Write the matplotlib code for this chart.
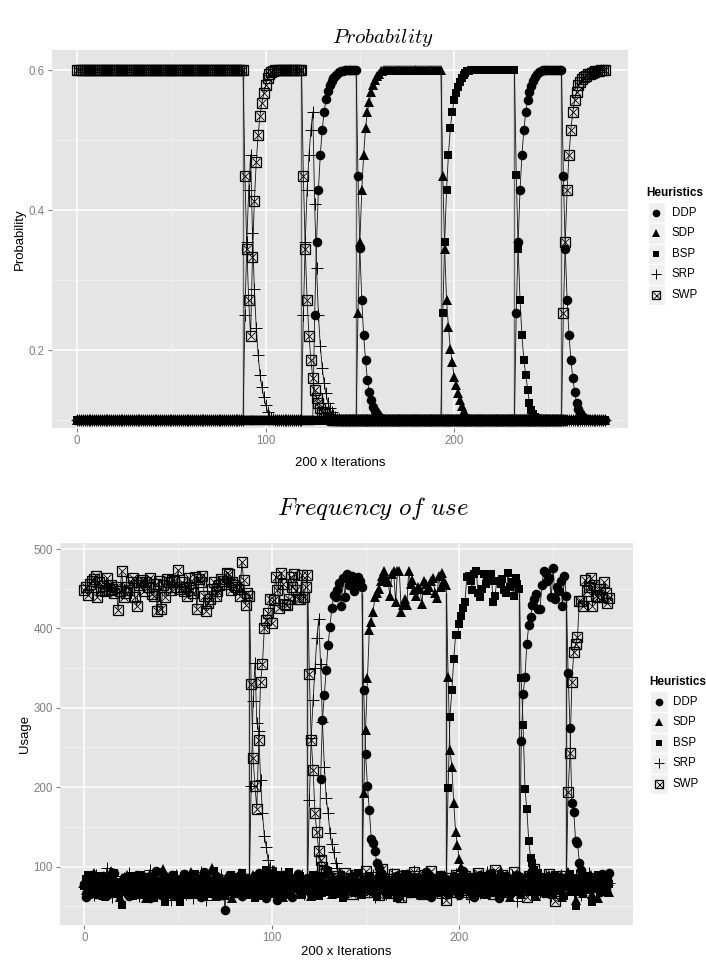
import numpy as np
import matplotlib
matplotlib.use('Agg')
import matplotlib.pyplot as plt
from matplotlib.lines import Line2D
from matplotlib.patches import Rectangle

plt.rcParams['font.family'] = ['Liberation Sans', 'DejaVu Sans']
plt.rcParams['mathtext.fontset'] = 'cm'

heuristics = ['DDP', 'SDP', 'BSP', 'SRP', 'SWP']
x_ticks = [0, 100, 200]
x_minor = [50, 150, 250]

# ---------------- Probability panel data (one value per 200 iterations) -------------
prob_ddp = ([0.1] * 126 +
            [0.25, 0.355, 0.429, 0.479, 0.514, 0.540, 0.558, 0.570, 0.578, 0.585, 0.589, 0.592, 0.595, 0.597, 0.598, 0.599] +
            [0.6] * 7 +
            [0.449, 0.346, 0.271, 0.221, 0.186, 0.157, 0.140, 0.128, 0.119, 0.113, 0.108, 0.105, 0.103, 0.101] +
            [0.1] * 70 +
            [0.253, 0.355, 0.429, 0.479, 0.514, 0.540, 0.557, 0.568, 0.577, 0.585, 0.590, 0.594, 0.597, 0.599] +
            [0.6] * 11 +
            [0.449, 0.345, 0.271, 0.221, 0.186, 0.160, 0.140, 0.125, 0.116, 0.110, 0.106, 0.103, 0.102, 0.101] +
            [0.1] * 9)
prob_sdp = ([0.1] * 149 +
            [0.253, 0.354, 0.429, 0.479, 0.517, 0.540, 0.555, 0.569, 0.579, 0.586, 0.591, 0.595, 0.598, 0.599] +
            [0.6] * 31 +
            [0.449, 0.345, 0.271, 0.233, 0.202, 0.183, 0.162, 0.150, 0.138, 0.128, 0.120, 0.113, 0.108, 0.104, 0.102] +
            [0.1] * 72)
prob_bsp = ([0.1] * 194 +
            [0.253, 0.355, 0.429, 0.479, 0.517, 0.540, 0.557, 0.567, 0.576, 0.583, 0.589, 0.593, 0.596, 0.598, 0.599] +
            [0.6] * 24 +
            [0.45, 0.345, 0.271, 0.221, 0.186, 0.165, 0.143, 0.124, 0.115, 0.109, 0.105, 0.103, 0.101, 0.1] +
            [0.1] * 34)
prob_srp = ([0.1] * 89 +
            [0.25, 0.355, 0.429, 0.479, 0.367, 0.287, 0.231, 0.193, 0.165, 0.147, 0.133, 0.122, 0.112, 0.106, 0.103, 0.101] +
            [0.1] * 15 +
            [0.25, 0.355, 0.429, 0.479, 0.514, 0.540, 0.409, 0.317, 0.250, 0.206, 0.175, 0.153, 0.138, 0.125, 0.117,
             0.111, 0.107, 0.104, 0.102, 0.101] +
            [0.1] * 141)
prob_swp = ([0.6] * 89 +
            [0.449, 0.345, 0.271, 0.220, 0.333, 0.413, 0.469, 0.507, 0.535, 0.553, 0.567, 0.578, 0.588, 0.594, 0.597, 0.599] +
            [0.6] * 15 +
            [0.449, 0.345, 0.271, 0.220, 0.186, 0.160, 0.143, 0.132, 0.124, 0.117, 0.112, 0.108, 0.105, 0.103, 0.101] +
            [0.1] * 123 +
            [0.253, 0.355, 0.429, 0.479, 0.515, 0.540, 0.557, 0.569, 0.578, 0.583, 0.587, 0.590, 0.592, 0.594, 0.595,
             0.596, 0.597, 0.598, 0.599, 0.599, 0.6, 0.6, 0.6])

# switch points (grey vertical connectors)
switch_pts = [88, 119, 148, 193, 232, 257]
prob_switch_span = [0.1, 0.6]
use_switch_span = [86, 445]

# ---------------- Frequency of use (usage) data ----------------
use_ddp = ([78, 62, 85, 71, 90, 74, 66, 81, 77, 69, 88, 73, 64, 79, 83, 70, 92, 67, 75, 80,
            72, 86, 68, 77, 63, 84, 79, 71, 90, 66, 74, 82, 69, 87, 76, 61, 80, 73, 95, 70,
            78, 64, 85, 72, 81, 67, 76, 89, 71, 63, 83, 75, 68, 91, 74, 79, 65, 86, 72, 77,
            70, 84, 62, 79, 93, 68, 75, 81, 73, 66, 88, 71, 78, 64, 82, 45, 76, 69, 85, 72,
            80, 67, 74, 90, 63, 79, 71, 86, 75, 68, 83, 70, 77, 92, 65, 81, 73, 60, 87, 74,
            69, 84, 76, 58, 82, 71, 89, 66, 78, 73, 85, 62, 80, 75, 91, 68, 77, 72, 84, 70,
            79, 65, 88, 73, 81, 76] +
           [210, 285, 316, 347, 379, 402, 426, 442, 440, 448, 457, 428, 463, 440, 468, 455] +
           [462, 466, 447, 455, 465, 460, 452] +
           [323, 242, 201, 171, 135, 130, 119, 105, 98, 92, 88, 80, 83, 76] +
           [82, 74, 69, 88, 77, 63, 85, 72, 79, 91, 67, 76, 84, 70, 73, 87, 65, 80, 75, 93,
            71, 78, 62, 86, 74, 81, 68, 90, 76, 72, 84, 66, 79, 73, 88, 70, 83, 64, 77, 95,
            72, 81, 69, 86, 75, 62, 80, 74, 89, 67, 78, 84, 71, 76, 92, 68, 82, 73, 60, 85,
            77, 70, 88, 74, 66, 81, 79, 72, 90, 75] +
           [258, 317, 339, 381, 404, 415, 430, 437, 443, 424, 424, 455, 472, 470] +
           [460, 464, 439, 476, 437, 452, 447, 460, 428, 466, 441] +
           [344, 275, 180, 169, 132, 130, 105, 96, 90, 86, 82, 78, 84, 80] +
           [86, 74, 79, 68, 91, 77, 72, 84, 92])
use_sdp = ([80, 71, 66, 84, 75, 92, 69, 78, 73, 87, 64, 81, 76, 70, 95, 68, 83, 74, 79, 62,
            86, 72, 77, 90, 67, 75, 82, 70, 88, 65, 79, 73, 84, 60, 77, 91, 71, 80, 68, 85,
            74, 78, 97, 66, 82, 73, 69, 87, 75, 63, 80, 72, 89, 77, 70, 84, 67, 93, 74, 79,
            65, 86, 72, 81, 76, 68, 90, 71, 98, 74, 63, 85, 78, 70, 82, 67, 88, 73, 79, 61,
            84, 75, 69, 92, 77, 71, 86, 66, 80, 74, 89, 68, 78, 83, 72, 64, 87, 76, 70, 81,
            73, 96, 67, 79, 85, 71, 62, 88, 75, 80, 69, 84, 77, 73, 91, 66, 82, 74, 78, 70,
            86, 63, 80, 75, 89, 72, 68, 83, 77, 93, 70, 79, 65, 85, 74, 81, 71, 88, 76, 67,
            82, 73, 78, 90, 69, 84, 75, 80, 72] +
           [193, 272, 338, 398, 408, 421, 440, 445, 450, 460, 466, 472, 464, 459] +
           [441, 469, 472, 433, 472, 472, 421, 429, 437, 430, 472, 456, 461, 448, 441, 452,
            450, 431, 460, 456, 448, 452, 460, 463, 445, 438, 466, 452, 470, 460, 455] +
           [339, 247, 226, 180, 144, 127, 109, 100, 95, 90, 84, 86, 78, 80, 75] +
           [88, 74, 69, 83, 77, 65, 91, 72, 80, 68, 85, 76, 71, 94, 67, 79, 73, 86, 62, 81,
            75, 70, 89, 77, 66, 84, 72, 78, 92, 69, 81, 74, 63, 87, 76, 71, 83, 68, 79, 90,
            73, 66, 85, 77, 70, 88, 62, 80, 75, 93, 69, 82, 74, 58, 86, 71, 79, 67, 84, 76,
            72, 89, 65, 80, 74, 60, 83, 77, 70, 87, 73, 68])
use_bsp = ([76, 84, 90, 68, 73, 81, 65, 88, 77, 71, 83, 62, 79, 74, 86, 70, 92, 67, 75, 80,
            52, 78, 85, 69, 74, 88, 63, 81, 76, 72, 90, 66, 79, 84, 71, 75, 87, 61, 82, 73,
            68, 93, 77, 56, 85, 70, 80, 74, 89, 67, 78, 55, 72, 64, 86, 76, 68, 81, 70, 91,
            75, 68, 84, 79, 62, 88, 73, 77, 66, 94, 71, 80, 85, 69, 76, 63, 82, 74, 90, 72,
            87, 67, 78, 73, 92, 65, 81, 76, 70, 84, 79, 61, 88, 74, 68, 83, 75, 96, 71, 80,
            66, 85, 73, 78, 89, 62, 81, 76, 70, 93, 67, 84, 74, 79, 72, 88, 64, 82, 77, 71,
            85, 69, 90, 75, 80, 63, 87, 73, 78, 68, 94, 76, 71, 83, 66, 79, 74, 89, 60, 82,
            77, 70, 86, 73, 81, 67, 92, 75, 64, 84, 78, 71, 88, 69, 80, 74, 62, 85, 76, 90,
            72, 79, 66, 83, 77, 70, 87, 61, 81, 75, 68, 91, 73, 78, 84, 65, 80, 72, 86, 74,
            69, 82, 77, 63, 88, 74, 71, 85, 79, 67, 90, 73, 76, 80] +
           [199, 289, 322, 361, 392, 392, 405, 416, 426, 433, 465, 466, 460, 448, 469] +
           [472, 444, 440, 450, 468, 456, 464, 460, 469, 433, 441, 460, 460, 456, 462, 448,
            445, 470, 452, 458, 441, 463, 456, 450] +
           [337, 278, 198, 172, 132, 111, 105, 96, 88, 92, 80, 84, 76, 78] +
           [84, 72, 78, 66, 89, 75, 70, 86, 79, 63, 82, 74, 91, 68, 77, 50, 85, 73, 80, 67,
            88, 76, 71, 83, 55, 79, 74, 90, 69, 81, 75, 86, 72, 78])
use_srp = ([74, 81, 69, 86, 77, 64, 90, 72, 79, 83, 67, 75, 98, 70, 84, 62, 78, 88, 73, 80,
            66, 85, 71, 77, 92, 68, 82, 74, 79, 63, 87, 76, 70, 84, 72, 96, 65, 80, 75, 89,
            71, 78, 83, 67, 86, 73, 58, 81, 76, 90, 69, 84, 74, 79, 66, 88, 72, 80, 61, 77,
            85, 70, 93, 75, 82, 58, 79, 73, 87, 68, 76, 84, 71, 90, 65, 80, 74, 86, 78, 69,
            83, 72, 88, 76, 64, 81, 75, 79, 85] +
           [201, 308, 357, 281, 271, 209, 167, 139, 125, 108, 100, 95, 88, 92, 84, 80] +
           [92, 85, 78, 83, 71, 88, 76, 69, 84, 80, 74, 90, 66, 79, 73] +
           [184, 262, 310, 350, 388, 412, 355, 282, 226, 186, 168, 142, 128, 118, 105, 98, 92, 88, 84, 80] +
           [76, 84, 69, 81, 73, 88, 65, 79, 92, 71, 77, 85, 68, 74, 90, 62, 82, 75, 87, 70,
            79, 66, 84, 73, 91, 77, 69, 86, 72, 80, 63, 88, 75, 83, 70, 78, 94, 67, 81, 74,
            86, 71, 77, 89, 65, 82, 73, 79, 68, 85, 76, 60, 88, 72, 80, 69, 84, 75, 91, 66,
            78, 83, 71, 87, 74, 62, 80, 76, 89, 70, 82, 67, 85, 73, 79, 93, 68, 77, 84, 71,
            75, 88, 64, 81, 72, 86, 78, 69, 90, 74, 80, 57, 83, 76, 70, 87, 73, 79, 66, 85,
            72, 91, 77, 68, 82, 75, 88, 71, 79, 63, 84, 76, 80, 70, 89, 74, 67, 86, 78, 72,
            83, 69, 90, 75, 81, 64, 87, 73, 78, 92, 70, 84, 76, 68, 80, 74, 88, 71, 82, 77,
            79])
use_swp = ([448, 452, 442, 456, 460, 462, 466, 439, 458, 449,
            453, 447, 464, 448, 455, 450, 444, 452, 423, 447,
            472, 439, 445, 452, 448, 458, 464, 440, 428, 455,
            459, 461, 447, 458, 452, 463, 443, 441, 456, 422,
            460, 425, 455, 440, 462, 458, 449, 461, 460, 452,
            474, 450, 458, 447, 452, 441, 463, 448, 445, 465,
            424, 462, 458, 466, 441, 422, 432, 437, 450, 459,
            441, 447, 455, 462, 460, 456, 470, 468, 449, 458,
            455, 452, 450, 441, 484, 461, 430, 444, 441] +
           [330, 237, 201, 173, 260, 333, 355, 401, 410, 420, 437, 407, 436, 465, 448, 426] +
           [470, 456, 431, 429, 437, 465, 452, 469, 448, 437, 437, 467, 440, 452, 467] +
           [342, 260, 222, 167, 144, 119, 108, 100, 95, 92, 84, 80, 78, 85, 76] +
           [88, 74, 81, 69, 92, 77, 72, 85, 66, 79, 90, 73, 83, 70, 76, 94, 68, 81, 75, 87,
            71, 78, 64, 86, 97, 73, 80, 67, 84, 76, 91, 70, 82, 74, 62, 88, 79, 72, 85, 68,
            77, 93, 71, 83, 75, 66, 89, 80, 73, 78, 95, 69, 84, 76, 70, 87, 74, 81, 58, 79,
            86, 72, 77, 90, 68, 83, 75, 71, 88, 76, 80, 66, 85, 73, 79, 92, 69, 82, 74, 87,
            70, 78, 84, 65, 96, 75, 81, 72, 89, 77, 68, 83, 74, 80, 93, 71, 86, 76, 70, 84,
            78, 62, 88, 75, 81, 97, 73, 79, 86, 70, 77, 84, 68, 91, 74, 80, 57, 85, 76, 72,
            88, 79, 83] +
           [194, 243, 333, 370, 380, 389, 435, 435, 428, 461, 447, 452, 463, 428, 455, 441,
            439, 450, 439, 459, 444, 432, 438])

prob_series = dict(DDP=prob_ddp, SDP=prob_sdp, BSP=prob_bsp, SRP=prob_srp, SWP=prob_swp)
use_series = dict(DDP=use_ddp, SDP=use_sdp, BSP=use_bsp, SRP=use_srp, SWP=use_swp)

# ---------------- styles ----------------
MARK = {
    'DDP': [dict(marker='o', ms=6.9, mfc='black', mec='black', mew=0)],
    'SDP': [dict(marker='^', ms=7.2, mfc='black', mec='black', mew=0)],
    'BSP': [dict(marker='s', ms=6.1, mfc='black', mec='black', mew=0)],
    'SRP': [dict(marker='+', ms=9.0, mec='black', mew=0.7)],
    'SWP': [dict(marker='s', ms=7.2, mfc='none', mec='black', mew=0.9),
            dict(marker='x', ms=6.3, mec='black', mew=0.6)],
}
W, H = 706, 961
fig = plt.figure(figsize=(W / 100, H / 100), dpi=100)


def fx(px):
    return px / W


def fy(py):
    return 1 - py / H


def make_axes(l, r, t, b):
    return fig.add_axes([fx(l), fy(b), fx(r) - fx(l), (b - t) / H])


def style(ax, xlim, ylim, yt, ytl, yminor):
    ax.set_facecolor('#E5E5E5')
    for s in ax.spines.values():
        s.set_visible(False)
    ax.set_xlim(xlim)
    ax.set_ylim(ylim)
    ax.set_xticks(x_ticks)
    ax.set_xticks(x_minor, minor=True)
    ax.set_yticks(yt)
    ax.set_yticklabels(ytl)
    ax.set_yticks(yminor, minor=True)
    ax.grid(which='major', color='white', lw=1.1)
    ax.grid(which='minor', color='#F2F2F2', lw=0.6)
    ax.set_axisbelow(True)
    ax.tick_params(which='major', length=3.2, width=0.8, color='#7F7F7F',
                   labelcolor='#7F7F7F', labelsize=8.3, pad=2)
    ax.tick_params(which='minor', length=0)


def draw(ax, series, span, sw_color):
    ax.vlines(switch_pts, span[0], span[1], colors=sw_color, lw=1.0, zorder=1.6)
    for name in heuristics:
        y = series[name]
        ax.plot(np.arange(len(y)), y, color='#111111', lw=0.6, zorder=2)
    for name in heuristics:
        y = series[name]
        for st in MARK[name]:
            ax.plot(np.arange(len(y)), y, ls='none', zorder=3, **st)


def legend(title_py, entry_pys, key_l, key_r, text_px):
    fig.text(fx(key_l - 1), fy(title_py), 'Heuristics', fontweight='bold',
             fontsize=8.5, va='center', ha='left')
    kh = entry_pys[1] - entry_pys[0]
    for name, py in zip(heuristics, entry_pys):
        fig.add_artist(Rectangle((fx(key_l), fy(py + kh / 2)), fx(key_r) - fx(key_l), kh / H,
                                 transform=fig.transFigure, facecolor='#EFEFEF',
                                 edgecolor='white', lw=1.0))
        for st in MARK[name]:
            s = dict(st)
            s['ms'] = s['ms'] * 0.8
            fig.add_artist(Line2D([fx((key_l + key_r) / 2)], [fy(py)], ls='none',
                                  transform=fig.transFigure, **s))
        fig.text(fx(text_px), fy(py), name, fontsize=8.3, va='center', ha='left')


# ---------------- top panel ----------------
ax1 = make_axes(52, 628, 50, 428)
style(ax1, (-13.4, 292.3), (0.0886, 0.6286), [0.2, 0.4, 0.6], ['0.2', '0.4', '0.6'], [0.1, 0.3, 0.5])
draw(ax1, prob_series, prob_switch_span, '#6A6A6A')
ax1.set_xlabel('200 x Iterations', fontsize=9.5)
ax1.set_ylabel('Probability', fontsize=9.5)
ax1.xaxis.set_label_coords(0.5, (428 - 463) / 378)
ax1.xaxis.label.set_va('center')
ax1.yaxis.set_label_coords((20 - 52) / 576, 0.5)
ax1.yaxis.label.set_va('center')
fig.text(fx(383), fy(38), r'$Probability$', fontsize=15, ha='center', va='center')
legend(193, [212.7, 233.3, 254, 274.3, 295], 647.7, 665, 671.7)

# ---------------- bottom panel ----------------
ax2 = make_axes(60, 633, 543, 925)
style(ax2, (-12.96, 292.6), (26.4, 507.6), [100, 200, 300, 400, 500],
      ['100', '200', '300', '400', '500'], [50, 150, 250, 350, 450])
draw(ax2, use_series, use_switch_span, '#333333')
ax2.set_xlabel('200 x Iterations', fontsize=9.5)
ax2.set_ylabel('Usage', fontsize=9.5)
ax2.xaxis.set_label_coords(0.5, (925 - 951.7) / 382)
ax2.xaxis.label.set_va('center')
ax2.yaxis.set_label_coords((25 - 60) / 573, 0.5)
ax2.yaxis.label.set_va('center')
fig.text(fx(373), fy(509), r'$Frequency\ of\ use$', fontsize=18, ha='center', va='center')
legend(682, [701.7, 722.3, 743.3, 763.3, 784], 650, 668, 672.7)

fig.savefig('out.png', dpi=100)
